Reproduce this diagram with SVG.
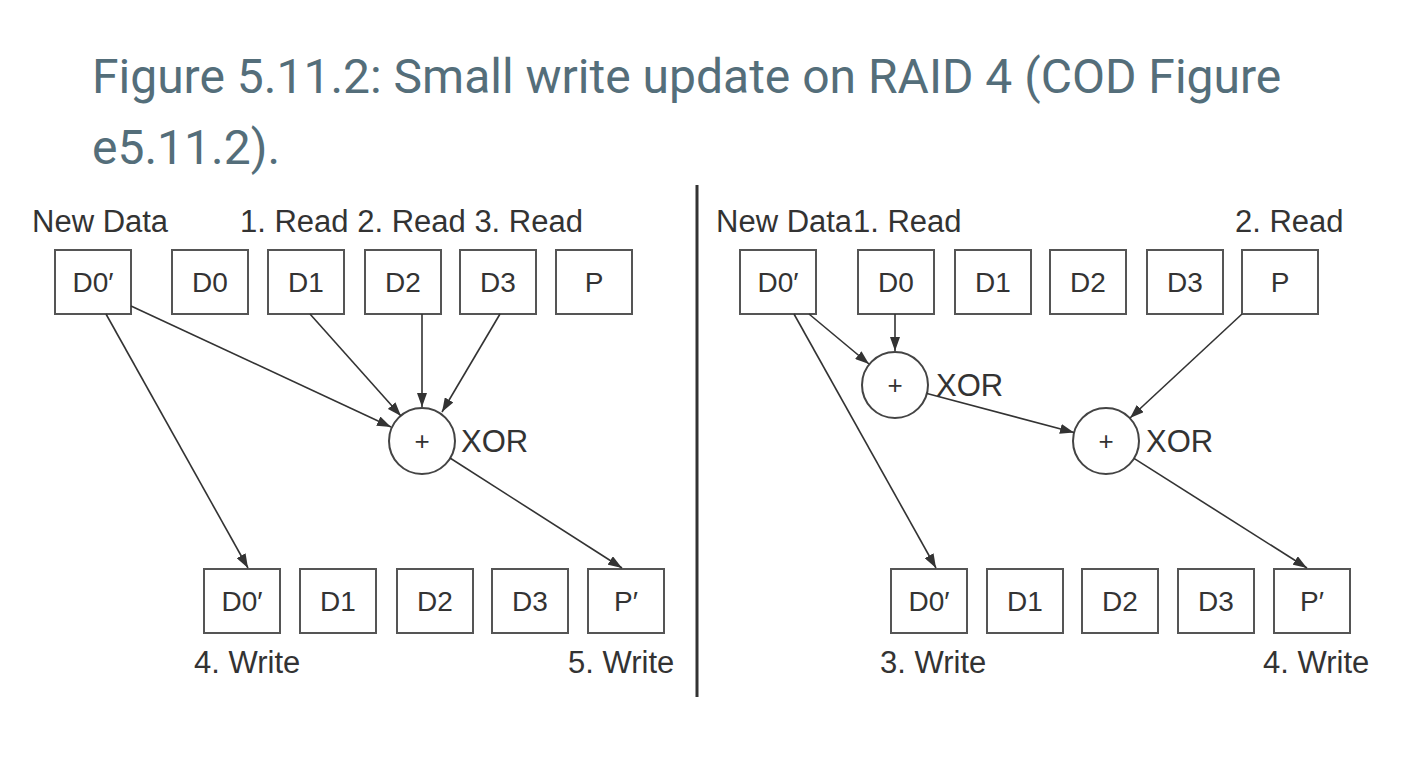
<svg xmlns="http://www.w3.org/2000/svg" width="1424" height="770" viewBox="0 0 1424 770">
<style>
.title{font-family:Roboto,"Liberation Sans",sans-serif;font-size:48px;fill:#546e7a}
.lbl{font-family:"Liberation Sans",Arial,sans-serif;font-size:31px;fill:#333}
.bx{fill:#fff;stroke:#555;stroke-width:2}
.bt{font-family:"Liberation Sans",Arial,sans-serif;font-size:28px;fill:#333;text-anchor:middle}
.ci{fill:#fff;stroke:#444;stroke-width:2}
.pl{font-family:"Liberation Sans",Arial,sans-serif;font-size:26px;fill:#333;text-anchor:middle}
.cn{stroke:#333;stroke-width:1.6;fill:none;marker-end:url(#ah)}
</style>
<defs>
<marker id="ah" markerUnits="userSpaceOnUse" viewBox="0 0 14 10" refX="14" refY="5" markerWidth="14" markerHeight="10" orient="auto">
<path d="M0,0 L14,5 L0,10 Z" fill="#333"/>
</marker>
</defs>
<rect width="1424" height="770" fill="#fff"/>
<g id="title">
<text class="title" x="92" y="93">Figure 5.11.2: Small write update on RAID 4 (COD Figure</text>
<text class="title" x="92" y="164">e5.11.2).</text>
</g>
<line x1="697" y1="185" x2="697" y2="697" stroke="#333" stroke-width="3"/>
<g id="labels">
<text class="lbl" x="32" y="232">New Data</text>
<text class="lbl" x="240" y="232">1. Read 2. Read 3. Read</text>
<text class="lbl" x="194" y="673">4. Write</text>
<text class="lbl" x="568" y="673">5. Write</text>
<text class="lbl" x="716" y="232">New Data</text>
<text class="lbl" x="853" y="232">1. Read</text>
<text class="lbl" x="1235" y="232">2. Read</text>
<text class="lbl" x="880" y="673">3. Write</text>
<text class="lbl" x="1263" y="673">4. Write</text>
</g>
<g id="left-top">
<g id="L-D0new"><rect class="bx" x="55" y="250" width="76" height="64"/><text class="bt" x="93" y="292">D0′</text></g>
<g id="L-D0"><rect class="bx" x="172" y="250" width="76" height="64"/><text class="bt" x="210" y="292">D0</text></g>
<g id="L-D1"><rect class="bx" x="268" y="250" width="76" height="64"/><text class="bt" x="306" y="292">D1</text></g>
<g id="L-D2"><rect class="bx" x="365" y="250" width="76" height="64"/><text class="bt" x="403" y="292">D2</text></g>
<g id="L-D3"><rect class="bx" x="460" y="250" width="76" height="64"/><text class="bt" x="498" y="292">D3</text></g>
<g id="L-P"><rect class="bx" x="556" y="250" width="76" height="64"/><text class="bt" x="594" y="292">P</text></g>
</g>
<g id="left-xor"><circle class="ci" cx="422" cy="441" r="33"/><text class="pl" x="422" y="450">+</text><text class="lbl" x="461" y="452">XOR</text></g>
<g id="left-bottom">
<g id="L-D0w"><rect class="bx" x="204" y="569" width="76" height="64"/><text class="bt" x="242" y="611">D0′</text></g>
<g id="L-D1b"><rect class="bx" x="300" y="569" width="76" height="64"/><text class="bt" x="338" y="611">D1</text></g>
<g id="L-D2b"><rect class="bx" x="397" y="569" width="76" height="64"/><text class="bt" x="435" y="611">D2</text></g>
<g id="L-D3b"><rect class="bx" x="492" y="569" width="76" height="64"/><text class="bt" x="530" y="611">D3</text></g>
<g id="L-Pw"><rect class="bx" x="588" y="569" width="76" height="64"/><text class="bt" x="626" y="611">P′</text></g>
</g>
<g id="right-top">
<g id="R-D0new"><rect class="bx" x="740" y="250" width="76" height="64"/><text class="bt" x="778" y="292">D0′</text></g>
<g id="R-D0"><rect class="bx" x="858" y="250" width="76" height="64"/><text class="bt" x="896" y="292">D0</text></g>
<g id="R-D1"><rect class="bx" x="955" y="250" width="76" height="64"/><text class="bt" x="993" y="292">D1</text></g>
<g id="R-D2"><rect class="bx" x="1050" y="250" width="76" height="64"/><text class="bt" x="1088" y="292">D2</text></g>
<g id="R-D3"><rect class="bx" x="1147" y="250" width="76" height="64"/><text class="bt" x="1185" y="292">D3</text></g>
<g id="R-P"><rect class="bx" x="1242" y="250" width="76" height="64"/><text class="bt" x="1280" y="292">P</text></g>
</g>
<g id="right-xor1"><circle class="ci" cx="895" cy="385" r="33"/><text class="pl" x="895" y="394">+</text><text class="lbl" x="936" y="396">XOR</text></g>
<g id="right-xor2"><circle class="ci" cx="1106" cy="441" r="33"/><text class="pl" x="1106" y="450">+</text><text class="lbl" x="1146" y="452">XOR</text></g>
<g id="right-bottom">
<g id="R-D0w"><rect class="bx" x="891" y="569" width="76" height="64"/><text class="bt" x="929" y="611">D0′</text></g>
<g id="R-D1b"><rect class="bx" x="987" y="569" width="76" height="64"/><text class="bt" x="1025" y="611">D1</text></g>
<g id="R-D2b"><rect class="bx" x="1082" y="569" width="76" height="64"/><text class="bt" x="1120" y="611">D2</text></g>
<g id="R-D3b"><rect class="bx" x="1178" y="569" width="76" height="64"/><text class="bt" x="1216" y="611">D3</text></g>
<g id="R-Pw"><rect class="bx" x="1274" y="569" width="76" height="64"/><text class="bt" x="1312" y="611">P′</text></g>
</g>
<g id="connectors">
<line class="cn" x1="106" y1="314" x2="248" y2="568"/>
<line class="cn" x1="131" y1="306" x2="391" y2="427"/>
<line class="cn" x1="310" y1="314" x2="401" y2="416"/>
<line class="cn" x1="422" y1="314" x2="422" y2="407"/>
<line class="cn" x1="500" y1="314" x2="442" y2="412"/>
<line class="cn" x1="450" y1="458" x2="622" y2="568"/>
<line class="cn" x1="794" y1="314" x2="936" y2="568"/>
<line class="cn" x1="809" y1="314" x2="869" y2="364"/>
<line class="cn" x1="895" y1="314" x2="895" y2="351"/>
<line class="cn" x1="927" y1="393.5" x2="1074" y2="432.5"/>
<line class="cn" x1="1242" y1="314" x2="1130" y2="418"/>
<line class="cn" x1="1134" y1="458.4" x2="1307" y2="568"/>
</g>
</svg>
